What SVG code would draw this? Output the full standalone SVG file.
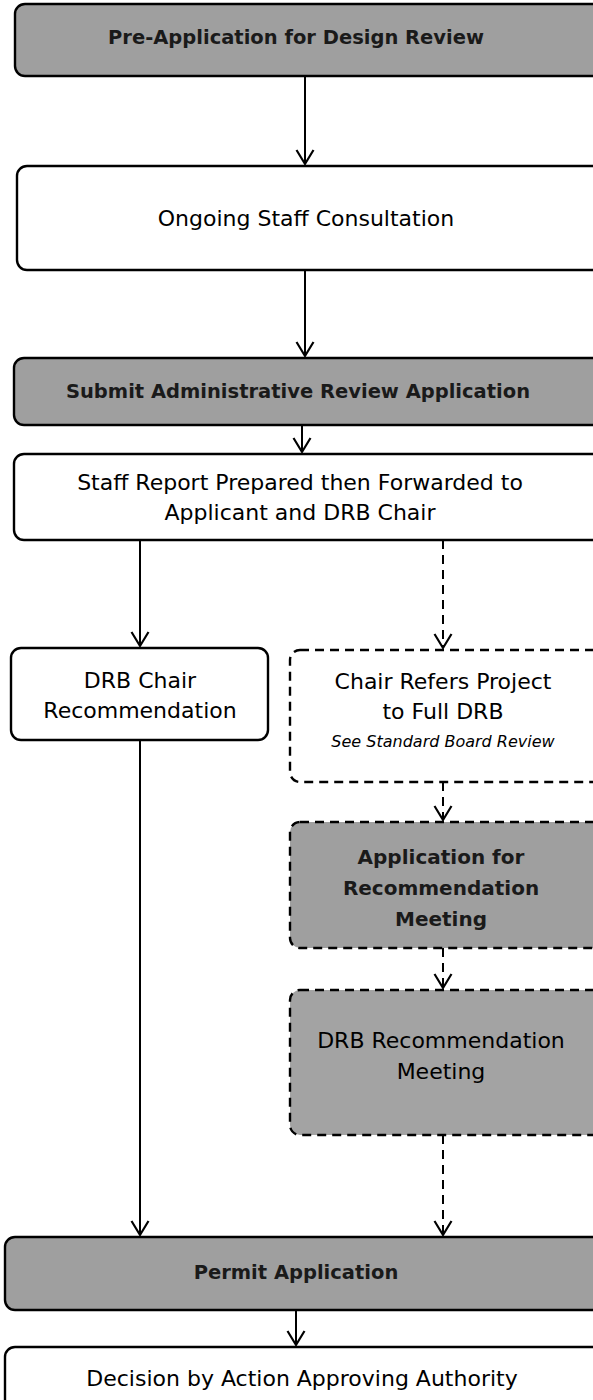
<svg xmlns="http://www.w3.org/2000/svg" width="593" height="1400" viewBox="0 0 593 1400">
  <style>
    .box { fill: #ffffff; stroke: #000; stroke-width: 2.4; }
    .shade { fill: #9f9f9f; stroke: #000; stroke-width: 2.4; }
    .mottle { fill: #a3a3a3; stroke: #000; stroke-width: 2.4; }
    .dash { stroke-dasharray: 9 6; }
    .t { font-family: "DejaVu Sans", Verdana, sans-serif; font-size: 22px; fill: #000; text-anchor: middle; }
    .b { font-weight: bold; font-size: 19.5px; fill: #1a1a1a; }
    .b2 { font-weight: bold; font-size: 20px; fill: #1a1a1a; }
    .note { font-style: italic; font-size: 16px; }
    .link { fill: none; stroke: #000; stroke-width: 2; marker-end: url(#vee); }
    .dl { stroke-dasharray: 9 6; }
  </style>
  <defs>
    <marker id="vee" markerUnits="userSpaceOnUse" markerWidth="30" markerHeight="30" refX="0" refY="0" viewBox="-15 -15 30 30" orient="auto" overflow="visible">
      <path d="M-14,-8.5 L0,0 L-14,8.5" fill="none" stroke="#000" stroke-width="2.2"/>
    </marker>
  </defs>

  <!-- connectors -->
  <g id="connectors">
    <line class="link" x1="305" y1="76" x2="305" y2="164"/>
    <line class="link" x1="305" y1="270" x2="305" y2="356"/>
    <line class="link" x1="302" y1="425" x2="302" y2="452"/>
    <line class="link" x1="140" y1="540" x2="140" y2="646"/>
    <line class="link dl" x1="443" y1="540" x2="443" y2="648"/>
    <line class="link dl" x1="443" y1="782" x2="443" y2="820"/>
    <line class="link dl" x1="443" y1="948" x2="443" y2="988"/>
    <line class="link" x1="140" y1="740" x2="140" y2="1235"/>
    <line class="link dl" x1="443" y1="1135" x2="443" y2="1235"/>
    <line class="link" x1="296" y1="1310" x2="296" y2="1345"/>
  </g>

  <g id="pre-application">
    <rect class="shade" x="15" y="4" width="590" height="72" rx="10"/>
    <text class="t b" x="296" y="44">Pre-Application for Design Review</text>
  </g>

  <g id="staff-consultation">
    <rect class="box" x="17" y="166" width="590" height="104" rx="10"/>
    <text class="t" x="306" y="226">Ongoing Staff Consultation</text>
  </g>

  <g id="submit-application">
    <rect class="shade" x="14" y="358" width="592" height="67" rx="10"/>
    <text class="t b" x="298" y="398">Submit Administrative Review Application</text>
  </g>

  <g id="staff-report">
    <rect class="box" x="14" y="454" width="592" height="86" rx="10"/>
    <text class="t" x="300" y="490">Staff Report Prepared then Forwarded to</text>
    <text class="t" x="300" y="520">Applicant and DRB Chair</text>
  </g>

  <g id="chair-recommendation">
    <rect class="box" x="11" y="648" width="257" height="92" rx="10"/>
    <text class="t" x="140" y="688">DRB Chair</text>
    <text class="t" x="140" y="718">Recommendation</text>
  </g>

  <g id="refer-full-drb">
    <rect class="box dash" x="290" y="650" width="315" height="132" rx="10"/>
    <text class="t" x="443" y="689">Chair Refers Project</text>
    <text class="t" x="443" y="719">to Full DRB</text>
    <text class="t note" x="443" y="747">See Standard Board Review</text>
  </g>

  <g id="recommendation-application">
    <rect class="shade dash" x="290" y="822" width="315" height="126" rx="10"/>
    <text class="t b2" x="441" y="864">Application for</text>
    <text class="t b2" x="441" y="895">Recommendation</text>
    <text class="t b2" x="441" y="926">Meeting</text>
  </g>

  <g id="recommendation-meeting">
    <rect class="mottle dash" x="290" y="990" width="315" height="145" rx="10"/>
    <text class="t" x="441" y="1048">DRB Recommendation</text>
    <text class="t" x="441" y="1079">Meeting</text>
  </g>

  <g id="permit-application">
    <rect class="shade" x="5" y="1237" width="600" height="73" rx="10"/>
    <text class="t b" x="296" y="1279">Permit Application</text>
  </g>

  <g id="decision">
    <rect class="box" x="5" y="1347" width="600" height="80" rx="10"/>
    <text class="t" x="302" y="1386">Decision by Action Approving Authority</text>
  </g>
</svg>
